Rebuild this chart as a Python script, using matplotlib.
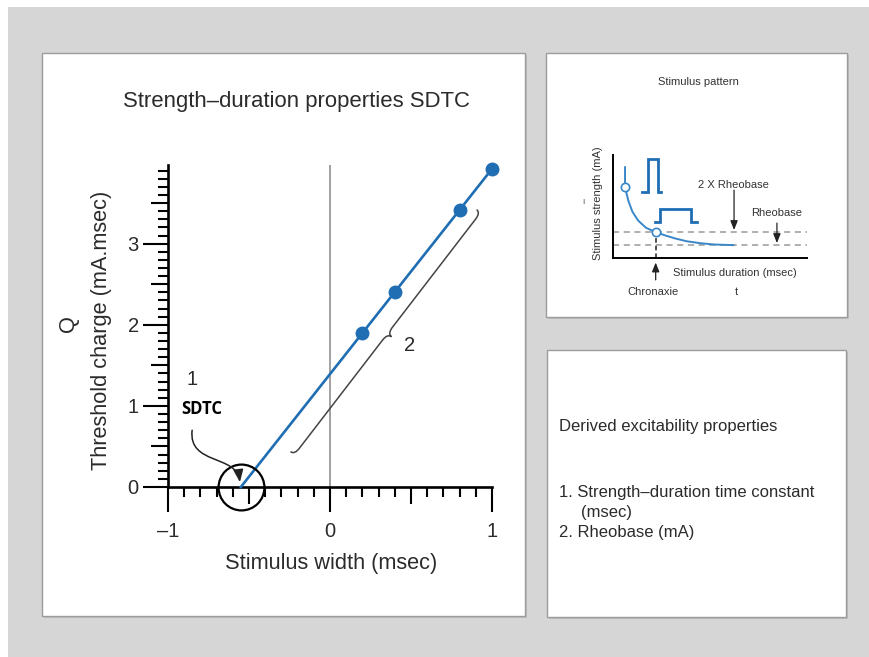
import numpy as np
import matplotlib
matplotlib.use("Agg")
import matplotlib.pyplot as plt
from matplotlib.patches import Rectangle, PathPatch, FancyArrowPatch
from matplotlib.path import Path
from matplotlib.ticker import MultipleLocator, FuncFormatter

plt.rcParams['font.family'] = ['Liberation Sans', 'DejaVu Sans']

W, H = 869, 657

# measured threshold charge vs stimulus width
widths = [0.2, 0.4, 0.8, 1.0]          # msec
charges = [1.90, 2.40, 3.42, 3.92]     # mA.msec

# brace marking the slope (rheobase), ends in data units
brace_ends = [(-0.244, 0.436), (0.905, 3.42)]
# S-shaped pointer from the SDTC label down into the circle (start, two controls, tip)
pointer_path = [(-0.851, 0.70), (-0.876, 0.27), (-0.578, 0.40), (-0.556, 0.06)]

# schematic strength-duration curve for the stimulus-pattern inset
curve_t = [0.62, 0.62, 0.8, 1.0, 1.3, 1.7, 2.2, 2.7, 3.2, 3.8, 4.5, 5.2, 6.2]
curve_i = [7.05, 5.5, 4.4, 3.6, 2.9, 2.35, 2.0, 1.75, 1.52, 1.3, 1.15, 1.05, 1.0]
rheobase_level = 1.0
chronaxie_t = 2.2
short_pulse_t = [1.5, 1.8, 1.8, 2.32, 2.32, 2.47]
short_pulse_i = [5.1, 5.1, 7.7, 7.7, 5.1, 5.1]
long_pulse_t = [2.16, 2.42, 2.42, 4.0, 4.0, 4.33]
long_pulse_i = [2.8, 2.8, 3.8, 3.8, 2.8, 2.8]

derived_items = ["1. Strength\u2013duration time constant", "(msec)", "2. Rheobase (mA)"]

BLUE = '#1f6db3'
LIGHT_BLUE = '#3a87c8'
TEXT = '#2b2b2b'


def px_box(x0, y0, x1, y1):
    # pixel box (top-left origin) -> figure fraction rect
    return [x0 / W, 1 - y1 / H, (x1 - x0) / W, (y1 - y0) / H]


def panel(fig, x0, y0, x1, y1):
    l, b, w, h = px_box(x0, y0, x1, y1)
    fig.add_artist(Rectangle((l + 1.5 / W, b - 1.5 / H), w, h, transform=fig.transFigure,
                             facecolor='#bdbdbd', edgecolor='none', zorder=-2))
    fig.add_artist(Rectangle((l, b), w, h, transform=fig.transFigure,
                             facecolor='white', edgecolor='#9c9c9c', lw=1.0, zorder=-1))


def draw_brace(ax, p0, p1, h=5.0, r=8.0, **kw):
    a = ax.transData.transform(p0)
    b = ax.transData.transform(p1)
    d = b - a
    L = np.hypot(*d)
    t = d / L
    n = np.array([t[1], -t[0]])
    local = [(0, 0), (0, h), (r, h), (L / 2 - r, h), (L / 2, h), (L / 2, 2 * h),
             (L / 2, h), (L / 2 + r, h), (L - r, h), (L, h), (L, 0)]
    codes = [Path.MOVETO, Path.CURVE3, Path.CURVE3, Path.LINETO, Path.CURVE3, Path.CURVE3,
             Path.CURVE3, Path.CURVE3, Path.LINETO, Path.CURVE3, Path.CURVE3]
    disp = np.array([a + s * t + v * n for s, v in local])
    verts = ax.transData.inverted().transform(disp)
    ax.add_patch(PathPatch(Path(verts, codes), fill=False, clip_on=False, **kw))


fig = plt.figure(figsize=(W / 100, H / 100), dpi=100, facecolor='#d6d6d6')
fig.add_artist(Rectangle((0, 0), 8 / W, 1, transform=fig.transFigure, facecolor='white',
                         edgecolor='none', zorder=-3))
fig.add_artist(Rectangle((0, 1 - 7 / H), 1, 7 / H, transform=fig.transFigure, facecolor='white',
                         edgecolor='none', zorder=-3))

panel(fig, 42, 53, 525, 616)
panel(fig, 546, 53, 847, 317)
panel(fig, 547, 350, 846, 617)

# ---- main strength-duration plot ----
ax = fig.add_axes(px_box(168, 165, 492, 487))
ax.set_xlim(-1, 1)
ax.set_ylim(0, 3.97)
ax.patch.set_alpha(0)
for s in ['top', 'right']:
    ax.spines[s].set_visible(False)
for s in ['left', 'bottom']:
    ax.spines[s].set_linewidth(1.9)
    ax.spines[s].set_capstyle('projecting')

ax.xaxis.set_major_locator(MultipleLocator(0.5))
ax.xaxis.set_minor_locator(MultipleLocator(0.1))
ax.yaxis.set_major_locator(MultipleLocator(0.5))
ax.yaxis.set_minor_locator(MultipleLocator(0.1))
int_only = FuncFormatter(lambda v, p: (f"{v:.0f}".replace('-', '\u2013')) if abs(v - round(v)) < 1e-6 else "")
ax.xaxis.set_major_formatter(int_only)
ax.yaxis.set_major_formatter(int_only)
ax.tick_params(which='major', length=18, width=1.5, labelsize=14.5, labelcolor=TEXT)
ax.tick_params(which='minor', length=7.5, width=1.5)
ax.tick_params(axis='x', which='major', pad=7)
ax.tick_params(axis='y', which='major', pad=3)

fig.canvas.draw()
for axis in (ax.xaxis, ax.yaxis):
    locs = axis.get_majorticklocs()
    for loc, tk in zip(locs, axis.get_major_ticks(len(locs))):
        if abs(loc - round(loc)) > 1e-6:
            tk.tick1line.set_markersize(12)

ax.axvline(0, color='#9a9a9a', lw=1.3, zorder=1)

slope, intercept = np.polyfit(widths, charges, 1)
x_int = -intercept / slope
fit_x = np.array([x_int, max(widths)])
ax.plot(fit_x, slope * fit_x + intercept, color=BLUE, lw=1.9, zorder=3, clip_on=False)
ax.plot(widths, charges, 'o', color=BLUE, ms=9, zorder=4, clip_on=False)

# circle around the x-intercept (SDTC)
ax.plot([x_int], [0], 'o', ms=33, mfc='none', mec='black', mew=1.6, zorder=5, clip_on=False)
ax.text(-0.85, 1.32, "1", fontsize=14.5, color=TEXT, ha='center', va='center')
ax.text(-0.79, 0.96, "SDTC", fontsize=12, fontweight='bold', family='Open Sans',
        color='black', ha='center', va='center')
pointer = Path(pointer_path, [Path.MOVETO, Path.CURVE4, Path.CURVE4, Path.CURVE4])
ax.add_patch(FancyArrowPatch(path=pointer,
                             arrowstyle='-|>,head_length=0.75,head_width=0.3', mutation_scale=10,
                             color='#222222', lw=1.1, zorder=6, clip_on=False))

draw_brace(ax, brace_ends[0], brace_ends[1], h=5, r=8, edgecolor='#444444', lw=1.1)
ax.text(0.49, 1.74, "2", fontsize=14.5, color=TEXT, ha='center', va='center')

fig.text(296 / W, 1 - 102 / H, "Strength\u2013duration properties SDTC", fontsize=15.9,
         color=TEXT, ha='center', va='center')
fig.text(331 / W, 1 - 563 / H, "Stimulus width (msec)", fontsize=15.7, color=TEXT,
         ha='center', va='center')
fig.text(102 / W, 1 - 330 / H, "Threshold charge (mA.msec)", fontsize=15.7, color=TEXT,
         ha='center', va='center', rotation=90)
fig.text(68 / W, 1 - 324 / H, "Q", fontsize=15.7, color=TEXT, ha='center', va='center',
         rotation=90)

# ---- stimulus pattern inset ----
ix = fig.add_axes(px_box(613, 155, 807, 258))
ix.set_xlim(0, 10)
ix.set_ylim(0, 8)
ix.patch.set_alpha(0)
ix.set_xticks([])
ix.set_yticks([])
for s in ['top', 'right']:
    ix.spines[s].set_visible(False)
for s in ['left', 'bottom']:
    ix.spines[s].set_linewidth(1.4)

ix.axhline(rheobase_level, color='#9a9a9a', lw=1.1, ls=(0, (4, 3)))
ix.axhline(2 * rheobase_level, color='#9a9a9a', lw=1.1, ls=(0, (4, 3)))
ix.plot([chronaxie_t, chronaxie_t], [0, 2 * rheobase_level], color='#222222', lw=1.1,
        ls=(0, (3, 2)))
ix.plot(curve_t, curve_i, color=LIGHT_BLUE, lw=1.4, zorder=3)
ix.plot([curve_t[1], chronaxie_t], [curve_i[1], 2 * rheobase_level], 'o', ms=6,
        mfc='white', mec=LIGHT_BLUE, mew=1.2, zorder=4)
ix.plot(short_pulse_t, short_pulse_i, color=BLUE, lw=2.0, solid_joinstyle='miter')
ix.plot(long_pulse_t, long_pulse_i, color=BLUE, lw=2.0, solid_joinstyle='miter')

arrow_kw = dict(arrowstyle='-|>,head_length=0.55,head_width=0.22', mutation_scale=10,
                color='#222222', lw=0.9, shrinkA=0, shrinkB=0)
ix.annotate("", xy=(6.24, 2.17), xytext=(6.24, 5.27), arrowprops=arrow_kw, annotation_clip=False)
ix.annotate("", xy=(8.45, 1.16), xytext=(8.45, 2.71), arrowprops=arrow_kw, annotation_clip=False)
ix.annotate("", xy=(chronaxie_t, -0.35), xytext=(chronaxie_t, -1.7), arrowprops=arrow_kw,
            annotation_clip=False)

small = dict(fontsize=8, color='#333333', ha='center', va='center', clip_on=False)
ix.text(6.19, 5.66, "2 X Rheobase", **small)
ix.text(8.45, 3.49, "Rheobase", **small)
ix.text(6.29, -1.16, "Stimulus duration (msec)", **small)
ix.text(2.06, -2.64, "Chronaxie", **small)
ix.text(6.34, -2.64, "t", **small)
fig.text(698 / W, 1 - 82 / H, "Stimulus pattern", fontsize=8, color='#333333',
         ha='center', va='center')
fig.text(598 / W, 1 - 203 / H, "Stimulus strength (mA)", fontsize=8, color='#333333',
         ha='center', va='center', rotation=90)
fig.text(583 / W, 1 - 203 / H, "I", fontsize=6, color='#555555', ha='center', va='center')

# ---- derived properties panel ----
fig.text(559 / W, 1 - 427 / H, "Derived excitability properties", fontsize=12, color=TEXT,
         ha='left', va='center')
fig.text(559 / W, 1 - 492 / H, derived_items[0], fontsize=12, color=TEXT, ha='left', va='center')
fig.text(581 / W, 1 - 513 / H, derived_items[1], fontsize=12, color=TEXT, ha='left', va='center')
fig.text(559 / W, 1 - 533 / H, derived_items[2], fontsize=12, color=TEXT, ha='left', va='center')

fig.savefig("out.png", dpi=100, facecolor=fig.get_facecolor())
